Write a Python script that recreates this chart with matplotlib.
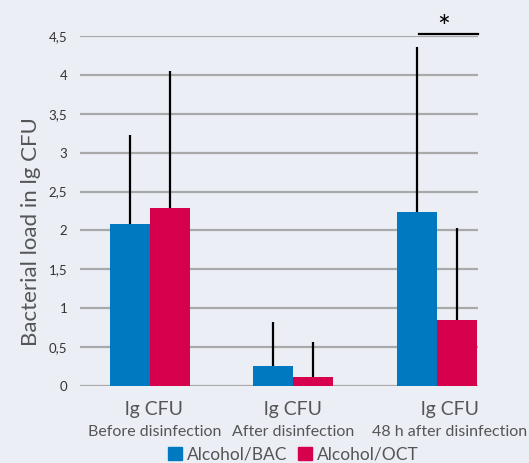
import matplotlib
matplotlib.use("Agg")
import matplotlib.pyplot as plt
from matplotlib.patches import Patch
import numpy as np

# values
groups = ["Before disinfection", "After disinfection", "48 h after disinfection"]
bac_mean = [2.08, 0.26, 2.24]
bac_err = [1.15, 0.56, 2.12]
oct_mean = [2.29, 0.12, 0.85]
oct_err = [1.76, 0.45, 1.18]
yticks = [0, 0.5, 1, 1.5, 2, 2.5, 3, 3.5, 4, 4.5]
ytick_labels = ["0", "0,5", "1", "1,5", "2", "2,5", "3", "3,5", "4", "4,5"]

bg = "#eceef6"
blue = "#0079c1"
red = "#d7004c"
plt.rcParams["font.family"] = ["Lato", "DejaVu Sans"]

fig = plt.figure(figsize=(5.29, 4.63), dpi=100, facecolor=bg)
ax = fig.add_axes([0.151, 0.1663, 0.753, 0.7559], facecolor=bg)

x = np.arange(len(groups))
w = 0.28
ax.bar(x - w / 2, bac_mean, w, color=blue, zorder=3)
ax.bar(x + w / 2, oct_mean, w, color=red, zorder=3)
# upper-only error bars, no caps
ax.errorbar(x - w / 2, bac_mean, yerr=[np.zeros(3), bac_err], fmt="none",
            ecolor="black", elinewidth=1.6, capsize=0, zorder=4)
ax.errorbar(x + w / 2, oct_mean, yerr=[np.zeros(3), oct_err], fmt="none",
            ecolor="black", elinewidth=1.6, capsize=0, zorder=4)

for y in yticks:
    ax.axhline(y, color="#a9a9a9", lw=1.6, zorder=1)

ax.set_xlim(-0.49, 2.29)
ax.set_ylim(0, 4.5)
ax.set_yticks(yticks)
ax.set_yticklabels(ytick_labels, fontsize=9.5, color="#333333")
ax.tick_params(axis="y", length=0, pad=9)
ax.set_xticks([])
for s in ax.spines.values():
    s.set_visible(False)
ax.set_ylabel("Bacterial load in lg CFU", fontsize=16, color="#555555")
ax.yaxis.set_label_coords(-0.098, 0.44)

# category labels
label_x = [0.03, 1.0, 2.09]
for lx, g in zip(label_x, groups):
    ax.text(lx, -0.19, "lg CFU", ha="center", va="top", fontsize=14,
            color="#555555", clip_on=False)
    ax.text(lx, -0.5, g, ha="center", va="top", fontsize=11.5,
            color="#555555", clip_on=False)

# significance marker
ax.plot([1.88, 2.29], [4.52, 4.52], color="black", lw=1.6, clip_on=False, zorder=5)
ax.text(2.05, 4.42, "*", ha="center", va="bottom", fontsize=22, clip_on=False)

handles = [Patch(color=blue, label="Alcohol/BAC"), Patch(color=red, label="Alcohol/OCT")]
fig.legend(handles=handles, loc="lower center", bbox_to_anchor=(0.555, -0.032), ncol=2,
           frameon=False, fontsize=12.5, handlelength=0.8, handleheight=0.8,
           handletextpad=0.3, columnspacing=0.6, labelcolor="#555555")

fig.savefig("out.png", dpi=100, facecolor=bg)
